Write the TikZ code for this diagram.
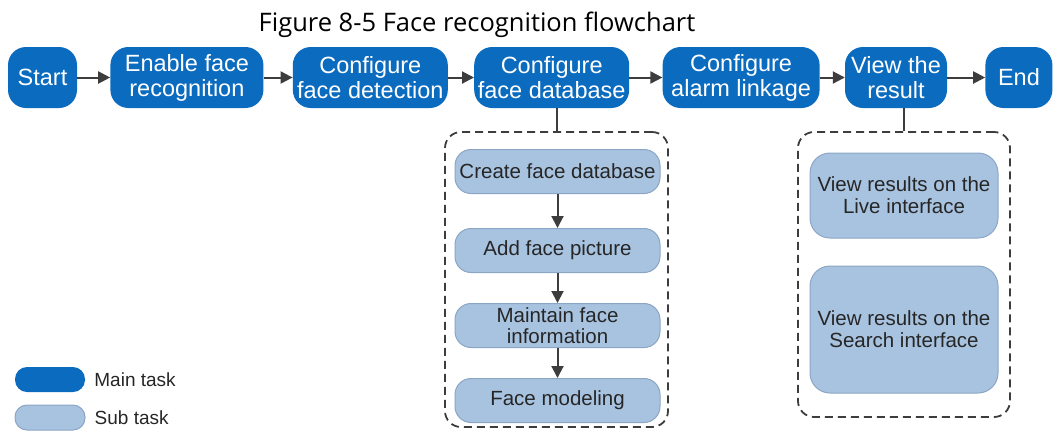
\documentclass[tikz,border=0pt]{standalone}
\usepackage{fontspec}
\setmainfont{Liberation Sans}
\newfontfamily\titlefont{Open Sans}
\usetikzlibrary{arrows.meta, positioning}
\definecolor{mainblue}{HTML}{0A6BBF}
\definecolor{subblue}{HTML}{A8C3E0}
\definecolor{subline}{HTML}{8BA6C4}
\definecolor{arrgray}{HTML}{3D3D3D}
\definecolor{subtext}{HTML}{262626}

\begin{document}
\begin{tikzpicture}[x=1pt, y=-1pt,
        mtask/.style={rectangle, fill=mainblue, text=white, rounded corners=18pt,
                      minimum height=61pt, align=center, inner sep=2pt,
                      font=\fontsize{23.5}{25}\selectfont},
        stask/.style={rectangle, draw=subline, line width=1pt, fill=subblue, text=subtext,
                      rounded corners=16pt, align=center, inner sep=2pt,
                      font=\fontsize{20.5}{22}\selectfont},
        grp/.style={rectangle, draw=arrgray, line width=1.8pt,
                    dash pattern=on 8pt off 5pt, rounded corners=16pt},
        lbl/.style={text=subtext, inner sep=0pt, font=\fontsize{19}{22}\selectfont},
        arr/.style={-{Triangle[length=12pt,width=12pt]}, line width=2pt, arrgray},
        node distance=30pt]
      \useasboundingbox (0,0) rectangle (1056,432);
      \node[anchor=base, font=\titlefont\fontsize{25.5}{30}\selectfont] (title) at (477,31)
        {Figure 8-5 Face recognition flowchart};
      % main tasks
      \node[mtask, minimum width=69pt] (start) at (42.5,77.5) {Start};
      \node[mtask, minimum width=153pt, right=33pt of start] (enable) {Enable face\\recognition};
      \node[mtask, minimum width=155pt, right=29pt of enable] (detect) {Configure\\face detection};
      \node[mtask, minimum width=155pt, right=26pt of detect] (db) {Configure\\face database};
      \node[mtask, minimum width=157pt, right=33pt of db] (alarm) {Configure\\alarm linkage};
      \node[mtask, minimum width=102pt, right=25pt of alarm] (view) {View the\\result};
      \node[mtask, minimum width=67pt, right=38pt of view] (end) {End};
      \draw[arr] (start) -- (enable);
      \draw[arr] (enable) -- (detect);
      \draw[arr] (detect) -- (db);
      \draw[arr] (db) -- (alarm);
      \draw[arr] (alarm) -- (view);
      \draw[arr] (view) -- (end);
      % face database group
      \node[grp, minimum width=223pt, minimum height=295pt] (dbgrp) at (556.5,279.5) {};
      \node[stask, minimum width=205pt, minimum height=44pt] (create) at (557.5,171.5) {Create face database};
      \node[stask, minimum width=205pt, minimum height=44pt, below=34pt of create] (addpic) {Add face picture};
      \node[stask, minimum width=205pt, minimum height=44pt, below=30pt of addpic,
            font=\fontsize{20.5}{21}\selectfont] (maintain) {Maintain face\\information};
      \node[stask, minimum width=205pt, minimum height=44pt, below=30pt of maintain] (model) {Face modeling};
      \draw[line width=2pt, arrgray] (dbgrp.north) -- (dbgrp.north |- db.south);
      \draw[arr] (create) -- (addpic);
      \draw[arr] (addpic) -- (maintain);
      \draw[arr] (maintain) -- (model);
      % result group
      \node[grp, minimum width=212pt, minimum height=285pt] (resgrp) at (904,274.5) {};
      \node[stask, minimum width=188pt, minimum height=85pt, rounded corners=20pt] (live) at (904,195.5)
        {View results on the\\Live interface};
      \node[stask, minimum width=188pt, minimum height=127pt, rounded corners=20pt, below=27pt of live] (search)
        {View results on the\\Search interface};
      \draw[line width=2pt, arrgray] (resgrp.north) -- (resgrp.north |- view.south);
      % legend
      \node[mtask, minimum width=70pt, minimum height=25pt, rounded corners=12pt] (keymain) at (50,379.5) {};
      \node[lbl, right=9pt of keymain] (keymaintxt) {Main task};
      \node[stask, minimum width=70pt, minimum height=25pt, rounded corners=12pt] (keysub) at (50,417.5) {};
      \node[lbl, right=9pt of keysub] (keysubtxt) {Sub task};
    \end{tikzpicture}
\end{document}
